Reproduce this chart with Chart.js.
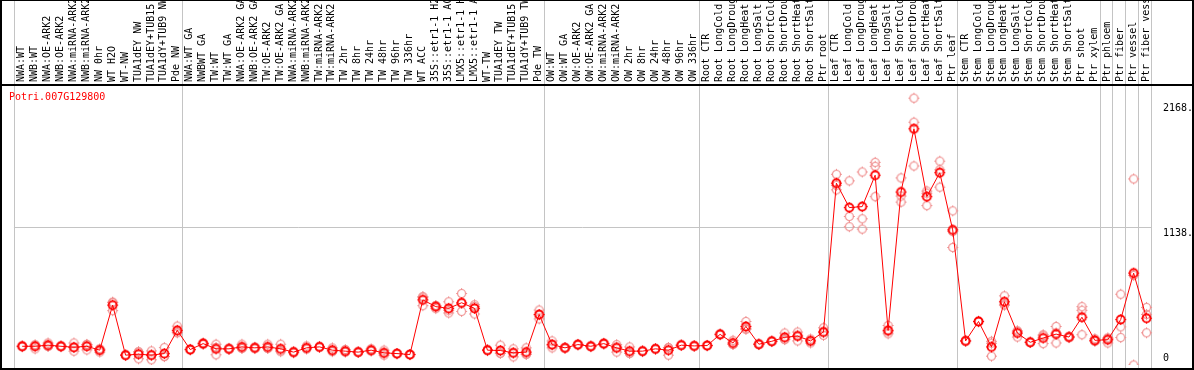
<!DOCTYPE html>
<html>
<head>
<meta charset="utf-8">
<script src="https://cdn.jsdelivr.net/npm/chart.js@4.4.1/dist/chart.umd.min.js"></script>
<style>
  html, body { margin: 0; padding: 0; background: #fff; }
  #wrap { width: 1194px; height: 370px; }
</style>
</head>
<body>
<div id="wrap"><canvas id="exprChart" width="1194" height="370"></canvas></div>
<script>
const GENE = "Potri.007G129800";

const CATEGORIES = [
  "NWA:WT", "NWB:WT", "NWA:OE-ARK2", "NWB:OE-ARK2", "NWA:miRNA-ARK2", "NWB:miRNA-ARK2",
  "NW 0hr", "WT H2O", "WT-NW", "TUA1dEY NW", "TUA1dEY+TUB15 NW", "TUA1dY+TUB9 NW", "Pde NW",
  "NWA:WT GA", "NWBWT GA", "TW:WT", "TW:WT GA", "NWA:OE-ARK2 GA", "NWB:OE-ARK2 GA",
  "TW:OE-ARK2", "TW:OE-ARK2 GA", "NWA:miRNA-ARK2 GA", "NWB:miRNA-ARK2 GA", "TW:miRNA-ARK2",
  "TW:miRNA-ARK2 GA", "TW 2hr", "TW 8hr", "TW 24hr", "TW 48hr", "TW 96hr", "TW 336hr",
  "WT ACC", "35S::etr1-1 H2O", "35S::etr1-1 ACC", "LMX5::etr1-1 H2O", "LMX5::etr1-1 ACC",
  "WT-TW", "TUA1dEY TW", "TUA1dEY+TUB15 TW", "TUA1dY+TUB9 TW", "Pde TW",
  "OW:WT", "OW:WT GA", "OW:OE-ARK2", "OW:OE-ARK2 GA", "OW:miRNA-ARK2", "OW:miRNA-ARK2 GA",
  "OW 2hr", "OW 8hr", "OW 24hr", "OW 48hr", "OW 96hr", "OW 336hr",
  "Root CTR", "Root LongCold", "Root LongDrought", "Root LongHeat", "Root LongSalt",
  "Root ShortCold", "Root ShortDrought", "Root ShortHeat", "Root ShortSalt", "Ptr root",
  "Leaf CTR", "Leaf LongCold", "Leaf LongDrought", "Leaf LongHeat", "Leaf LongSalt",
  "Leaf ShortCold", "Leaf ShortDrought", "Leaf ShortHeat", "Leaf ShortSalt", "Ptr leaf",
  "Stem CTR", "Stem LongCold", "Stem LongDrought", "Stem LongHeat", "Stem LongSalt",
  "Stem ShortCold", "Stem ShortDrought", "Stem ShortHeat", "Stem ShortSalt", "Ptr shoot",
  "Ptr xylem", "Ptr phloem", "Ptr fiber", "Ptr vessel", "Ptr fiber vessel"
];

// last category index of each sample group (grey separators)
const GROUP_ENDS = [12, 40, 52, 62, 72, 83, 84, 85, 86, 87];

const Y_TICKS = [0, 1138, 2168];
const Y_TICK_LABELS = ["0", "1138.", "2168."];

const MEAN = [
  154, 154, 163, 154, 146, 154, 122, 493, 81, 89, 81, 94, 285,
  127, 176, 133, 133, 149, 141, 149, 133, 106, 141, 149, 122, 114, 106, 122, 100, 94, 86,
  536, 480, 466, 512, 466, 122, 119, 100, 106, 415,
  168, 141, 168, 154, 176, 141, 114, 114, 133, 122, 163, 157,
  160, 252, 181, 317, 171, 195, 228, 238, 198, 272,
  1496, 1295, 1303, 1561, 285, 1423, 1943, 1385, 1582, 1111,
  198, 358, 149, 520, 263, 187, 222, 254, 230, 393, 203,
  208, 374, 756, 385
];

const REP_A = [
  158, 133, 181, 154, 181, 124, 133, 517, 81, 51, 116, 143, 320,
  127, 176, 171, 133, 171, 141, 171, 171, 106, 157, 149, 141, 127, 106, 133, 122, 94, 86,
  563, 488, 520, 588, 482, 122, 163, 133, 141, 452,
  198, 141, 168, 154, 176, 168, 149, 114, 133, 141, 163, 157,
  160, 252, 203, 358, 171, 195, 263, 271, 181, 306,
  1569, 1515, 1588, 1667, 325, 1539, 2195, 1431, 1677, 1268,
  198, 358, 195, 569, 230, 187, 249, 317, 230, 480, 216,
  181, 582, 1531, 474
];

const REP_B = [
  150, 165, 155, 150, 114, 170, 106, 447, 78, 108, 43, 70, 270,
  130, 170, 84, 128, 140, 135, 140, 110, 100, 133, 145, 110, 108, 103, 116, 81, 94, 86,
  488, 464, 428, 441, 420, 118, 96, 67, 88, 379,
  141, 138, 165, 150, 172, 106, 97, 110, 130, 81, 160, 155,
  158, 248, 170, 300, 168, 192, 212, 198, 214, 244,
  1441, 1222, 1203, 1634, 257, 1390, 1997, 1311, 1606, 967,
  195, 355, 73, 500, 280, 185, 176, 181, 225, 450, 195,
  222, 314, 0, 265
];

const REP_C = [
  154, 164, 153, 158, 143, 168, 127, 515, 84, 108, 84, 69, 265,
  124, 182, 144, 138, 136, 147, 136, 118, 112, 133, 153, 115, 107, 109, 117, 97, 94, 86,
  557, 488, 450, 507, 496, 126, 98, 100, 89, 414,
  165, 144, 171, 158, 180, 149, 96, 118, 136, 144, 166, 159,
  162, 256, 170, 293, 174, 198, 209, 245, 199, 266,
  1478, 1138, 1118, 1385, 273, 1340, 1637, 1413, 1463, 1098,
  201, 361, 179, 491, 279, 189, 241, 264, 235, 249, 198,
  221, 226, 737, 416
];

const RED = "#ff0000";
const PINK = "#ef8f8f";
const GRID = "#c4c4c4";
const FONT = "10px 'DejaVu Sans Mono', monospace";

/* ---------- markers: hollow circle with little ticks ---------- */

function makeMarker(color, width) {
  const c = document.createElement("canvas");
  c.width = 13;
  c.height = 13;
  const g = c.getContext("2d");
  g.strokeStyle = color;
  g.lineWidth = width;
  g.beginPath();
  g.arc(6.5, 6.5, 4, 0, Math.PI * 2);
  g.stroke();
  g.lineWidth = 1;
  g.beginPath();
  g.moveTo(6.5, 1); g.lineTo(6.5, 2.5);
  g.moveTo(6.5, 10.5); g.lineTo(6.5, 12);
  g.moveTo(1, 6.5); g.lineTo(2.5, 6.5);
  g.moveTo(10.5, 6.5); g.lineTo(12, 6.5);
  g.stroke();
  return c;
}

function toPoints(values) {
  return values.map((v, i) => ({ x: i, y: v }));
}

/* ---------- frame, separators and text ---------- */

const framePlugin = {
  id: "frame",
  beforeDatasetsDraw(chart) {
    const { ctx, scales: { x, y } } = chart;
    const left = x.getPixelForValue(-0.64);
    const right = x.getPixelForValue(GROUP_ENDS[GROUP_ENDS.length - 1] + 0.36);
    ctx.save();
    ctx.strokeStyle = GRID;
    ctx.lineWidth = 1;
    ctx.beginPath();
    [-1, ...GROUP_ENDS].forEach(end => {
      const px = Math.round(x.getPixelForValue(end + 0.36)) + 0.5;
      ctx.moveTo(px, 0);
      ctx.lineTo(px, 368);
    });
    const gy = Math.round(y.getPixelForValue(1138)) + 0.5;
    ctx.moveTo(left, gy);
    ctx.lineTo(right, gy);
    ctx.stroke();
    ctx.restore();
  },
  afterDraw(chart) {
    const { ctx, scales: { x, y } } = chart;
    ctx.save();

    // borders
    ctx.strokeStyle = "#000";
    ctx.lineWidth = 2;
    ctx.beginPath();
    ctx.moveTo(1, 0); ctx.lineTo(1, 370);
    ctx.moveTo(1193, 0); ctx.lineTo(1193, 370);
    ctx.moveTo(0, 369); ctx.lineTo(1194, 369);
    ctx.moveTo(0, 85); ctx.lineTo(1194, 85);
    ctx.stroke();
    ctx.lineWidth = 1;
    ctx.beginPath();
    ctx.moveTo(0, 0.5); ctx.lineTo(1194, 0.5);
    ctx.stroke();

    // category labels, vertical
    ctx.font = FONT;
    ctx.fillStyle = "#000";
    ctx.textAlign = "left";
    ctx.textBaseline = "middle";
    CATEGORIES.forEach((name, i) => {
      ctx.save();
      ctx.translate(x.getPixelForValue(i) - 0.5, 82);
      ctx.rotate(-Math.PI / 2);
      ctx.fillText(name, 0, 0);
      ctx.restore();
    });

    // gene name
    ctx.fillStyle = RED;
    ctx.textBaseline = "alphabetic";
    ctx.fillText(GENE, 9, 100);

    // value labels on the right
    ctx.fillStyle = "#000";
    Y_TICKS.forEach((v, i) => {
      const py = y.getPixelForValue(v);
      if (v === 0) {
        ctx.textBaseline = "bottom";
        ctx.fillText(Y_TICK_LABELS[i], 1163, py - 2);
      } else {
        ctx.textBaseline = "top";
        ctx.fillText(Y_TICK_LABELS[i], 1163, py + 2);
      }
    });
    ctx.restore();
  }
};

/* ---------- chart ---------- */

function createChart() {
  const meanMarker = makeMarker(RED, 1.8);
  const repMarker = makeMarker(PINK, 1.2);

  const repSet = (label, values) => ({
    label,
    data: toPoints(values),
    showLine: false,
    pointStyle: repMarker,
    pointRadius: 4,
    borderColor: PINK,
    backgroundColor: "transparent",
    order: 1
  });

  new Chart(document.getElementById("exprChart"), {
    type: "line",
    data: {
      datasets: [
        {
          label: GENE,
          data: toPoints(MEAN),
          borderColor: RED,
          borderWidth: 1,
          tension: 0,
          pointStyle: meanMarker,
          pointRadius: 4,
          backgroundColor: "transparent",
          order: 0
        },
        repSet("rep 1", REP_A),
        repSet("rep 2", REP_B),
        repSet("rep 3", REP_C)
      ]
    },
    options: {
      responsive: false,
      animation: false,
      devicePixelRatio: 1,
      layout: { padding: { left: 2, right: 1, top: 86, bottom: 2 } },
      plugins: {
        legend: { display: false },
        tooltip: { enabled: false }
      },
      scales: {
        x: { type: "linear", min: -1.3308, max: 90.2846, display: false },
        y: { min: 0, max: 2295, display: false }
      }
    },
    plugins: [framePlugin]
  });
}

createChart();
</script>
</body>
</html>
